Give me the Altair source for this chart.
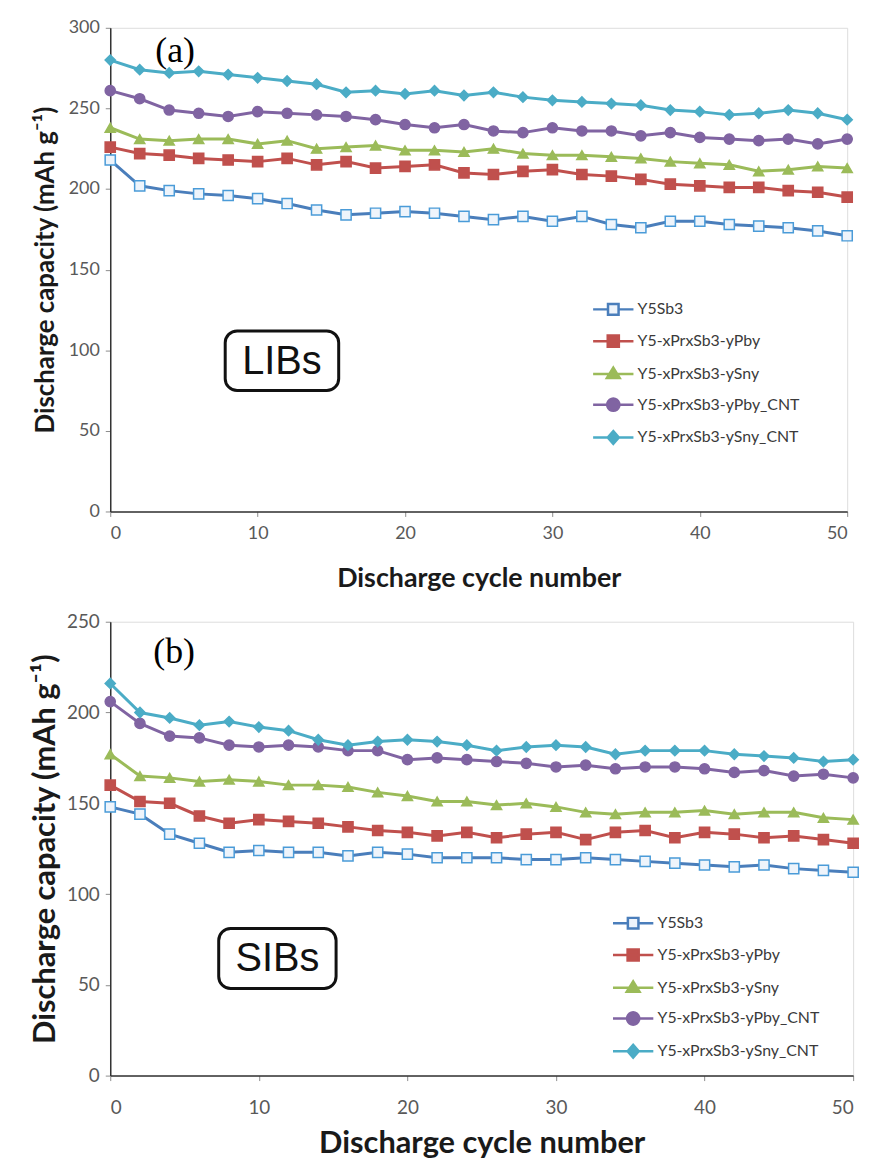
import math
import altair as alt
import pandas as pd

# ---------------- data ----------------
cycles = list(range(0, 51, 2))
series_names = ["Y5Sb3", "Y5-xPrxSb3-yPby", "Y5-xPrxSb3-ySny",
                "Y5-xPrxSb3-yPby_CNT", "Y5-xPrxSb3-ySny_CNT"]

# (a) LIBs
lib_y5sb3 = [218, 202, 199, 197, 196, 194, 191, 187, 184, 185, 186, 185, 183,
             181, 183, 180, 183, 178, 176, 180, 180, 178, 177, 176, 174, 171]
lib_pb = [226, 222, 221, 219, 218, 217, 219, 215, 217, 213, 214, 215, 210,
          209, 211, 212, 209, 208, 206, 203, 202, 201, 201, 199, 198, 195]
lib_sn = [238, 231, 230, 231, 231, 228, 230, 225, 226, 227, 224, 224, 223,
          225, 222, 221, 221, 220, 219, 217, 216, 215, 211, 212, 214, 213]
lib_pb_cnt = [261, 256, 249, 247, 245, 248, 247, 246, 245, 243, 240, 238, 240,
              236, 235, 238, 236, 236, 233, 235, 232, 231, 230, 231, 228, 231]
lib_sn_cnt = [280, 274, 272, 273, 271, 269, 267, 265, 260, 261, 259, 261, 258,
              260, 257, 255, 254, 253, 252, 249, 248, 246, 247, 249, 247, 243]

# (b) SIBs
sib_y5sb3 = [148, 144, 133, 128, 123, 124, 123, 123, 121, 123, 122, 120, 120,
             120, 119, 119, 120, 119, 118, 117, 116, 115, 116, 114, 113, 112]
sib_pb = [160, 151, 150, 143, 139, 141, 140, 139, 137, 135, 134, 132, 134,
          131, 133, 134, 130, 134, 135, 131, 134, 133, 131, 132, 130, 128]
sib_sn = [177, 165, 164, 162, 163, 162, 160, 160, 159, 156, 154, 151, 151,
          149, 150, 148, 145, 144, 145, 145, 146, 144, 145, 145, 142, 141]
sib_pb_cnt = [206, 194, 187, 186, 182, 181, 182, 181, 179, 179, 174, 175, 174,
              173, 172, 170, 171, 169, 170, 170, 169, 167, 168, 165, 166, 164]
sib_sn_cnt = [216, 200, 197, 193, 195, 192, 190, 185, 182, 184, 185, 184, 182,
              179, 181, 182, 181, 177, 179, 179, 179, 177, 176, 175, 173, 174]

x_ticks = [0, 10, 20, 30, 40, 50]
x_title = "Discharge cycle number"
y_title = "Discharge capacity (mAh g\u207b\u00b9)"

# ---------------- styles ----------------
line_colors = ["#4A7EBB", "#C0504D", "#9BBB59", "#8064A2", "#4BACC6"]
marker_fill = ["#EEF4FB", "#C0504D", "#9BBB59", "#8064A2", "#4BACC6"]
marker_stroke = ["#4A9BD8", "#C0504D", "#9BBB59", "#8064A2", "#4BACC6"]
marker_shapes = ["square", "square", "triangle-up", "circle", "diamond"]


def circle_path(r, n=20):
    pts = [(r * math.cos(2 * math.pi * k / n), r * math.sin(2 * math.pi * k / n)) for k in range(n)]
    return "M" + "L".join(f"{px:.3f},{py:.3f}" for px, py in pts) + "Z"


L = 1.45
legend_paths = [
    f"M-{L},0H-0.4M0.4,0H{L}M-0.38,-0.38H0.38V0.38H-0.38Z",
    f"M-{L},0H{L}M-0.4,-0.4H0.4V0.4H-0.4Z",
    f"M-{L},0H{L}M0,-0.45L0.46,0.3H-0.46Z",
    f"M-{L},0H{L}" + circle_path(0.44),
    f"M-{L},0H{L}M0,-0.46L0.4,0L0,0.46L-0.4,0Z",
]

FONT = "Lato"
LABEL_COLOR = "#595959"


def make_df(series_vals):
    rows = []
    for name, vals in zip(series_names, series_vals):
        for c, v in zip(cycles, vals):
            rows.append({"cycle": c, "capacity": v, "series": name})
    return pd.DataFrame(rows)


def panel(series_vals, ymax, tag, tag_pos, box_text, box, width, height,
          legend_xy, tick_fs, ytitle_fs, xtitle_fs, xlabel_pad, xtitle_pad, ytitle_pad):
    df = make_df(series_vals)
    x = alt.X("cycle:Q", scale=alt.Scale(domain=[0, 50], nice=False, zero=False),
              axis=alt.Axis(values=x_ticks, title=x_title, grid=False,
                            labelFont=FONT, labelFontSize=tick_fs, labelColor=LABEL_COLOR,
                            labelPadding=xlabel_pad, tickSize=5, tickColor="#8c8c8c",
                            domainColor="#333333", domainWidth=1.5,
                            titleFont=FONT, titleFontSize=xtitle_fs, titleFontWeight="bold",
                            titleColor="#1a1a1a", titlePadding=xtitle_pad))
    y = alt.Y("capacity:Q", scale=alt.Scale(domain=[0, ymax], nice=False),
              axis=alt.Axis(values=list(range(0, ymax + 1, 50)), title=y_title, grid=False,
                            labelFont=FONT, labelFontSize=tick_fs, labelColor=LABEL_COLOR,
                            labelPadding=6, tickSize=5, tickColor="#8c8c8c",
                            domainColor="#333333", domainWidth=1.5,
                            titleFont=FONT, titleFontSize=ytitle_fs, titleFontWeight="bold",
                            titleColor="#1a1a1a", titlePadding=ytitle_pad))
    base = alt.Chart(df)
    lines = base.mark_line(strokeWidth=3).encode(
        x=x, y=y,
        stroke=alt.Stroke("series:N", scale=alt.Scale(domain=series_names, range=line_colors), legend=None),
        order=alt.Order("cycle:Q"),
    )
    points = base.mark_point(filled=True, size=105, strokeWidth=1.5, opacity=1).encode(
        x=x, y=y,
        fill=alt.Fill("series:N", scale=alt.Scale(domain=series_names, range=marker_fill), legend=None),
        stroke=alt.Stroke("series:N", scale=alt.Scale(domain=series_names, range=marker_stroke), legend=None),
        shape=alt.Shape("series:N", scale=alt.Scale(domain=series_names, range=marker_shapes), legend=None),
    )
    leg = alt.Legend(orient="none", legendX=legend_xy[0], legendY=legend_xy[1], title=None,
                     symbolOpacity=1, symbolSize=784, symbolStrokeWidth=2.5,
                     symbolOffset=6, labelOffset=9, padding=0, rowPadding=6,
                     labelFont=FONT, labelFontSize=16, labelColor="#3a3a3a", labelLimit=300)
    legend_layer = base.mark_point(filled=True, opacity=0).encode(
        x=x, y=y,
        fill=alt.Fill("series:N", scale=alt.Scale(domain=series_names, range=marker_fill), legend=leg),
        stroke=alt.Stroke("series:N", scale=alt.Scale(domain=series_names, range=line_colors), legend=leg),
        shape=alt.Shape("series:N", scale=alt.Scale(domain=series_names, range=legend_paths), legend=leg),
    )
    tag_df = pd.DataFrame({"cycle": [tag_pos[0]], "capacity": [tag_pos[1]], "t": [tag]})
    tag_text = alt.Chart(tag_df).mark_text(font="Liberation Serif", fontSize=36, color="#000000",
                                           baseline="alphabetic", align="center").encode(
        x="cycle:Q", y="capacity:Q", text="t:N")
    box_df = pd.DataFrame({"x0": [box[0]], "x1": [box[1]], "y0": [box[2]], "y1": [box[3]],
                           "xc": [(box[0] + box[1]) / 2], "yc": [(box[2] + box[3]) / 2], "t": [box_text]})
    box_rect = alt.Chart(box_df).mark_rect(fill="white", stroke="#111111", strokeWidth=3,
                                           cornerRadius=12).encode(
        x="x0:Q", x2="x1", y="y0:Q", y2="y1")
    box_label = alt.Chart(box_df).mark_text(font="Liberation Sans", fontSize=40, color="#111111",
                                            baseline="middle", align="center", dy=1).encode(
        x="xc:Q", y="yc:Q", text="t:N")
    return alt.layer(lines, points, legend_layer, tag_text, box_rect, box_label).resolve_scale(
        stroke="independent", fill="independent", shape="independent"
    ).properties(width=width, height=height)


top = panel([lib_y5sb3, lib_pb, lib_sn, lib_pb_cnt, lib_sn_cnt], 300, "(a)", (4.4, 279),
            "LIBs", (7.8, 15.5, 75, 112), 742, 487, (485, 268),
            tick_fs=18, ytitle_fs=26, xtitle_fs=27, xlabel_pad=8, xtitle_pad=24, ytitle_pad=10)
bottom = panel([sib_y5sb3, sib_pb, sib_sn, sib_pb_cnt, sib_sn_cnt], 250, "(b)", (4.3, 227),
               "SIBs", (7.3, 15.2, 48, 81), 748, 457, (505, 288),
               tick_fs=19, ytitle_fs=31, xtitle_fs=31, xlabel_pad=18, xtitle_pad=11, ytitle_pad=5)

chart = alt.vconcat(top, bottom, spacing=19).resolve_scale(
    stroke="independent", fill="independent", shape="independent"
).resolve_legend(stroke="independent", fill="independent", shape="independent").properties(
    padding={"left": 29, "top": 14, "right": 12, "bottom": 0}
).configure_view(stroke="#1a1a1a", strokeWidth=2).configure(background="white")

chart.save("out.html", embed_options={"renderer": "svg", "actions": False})
